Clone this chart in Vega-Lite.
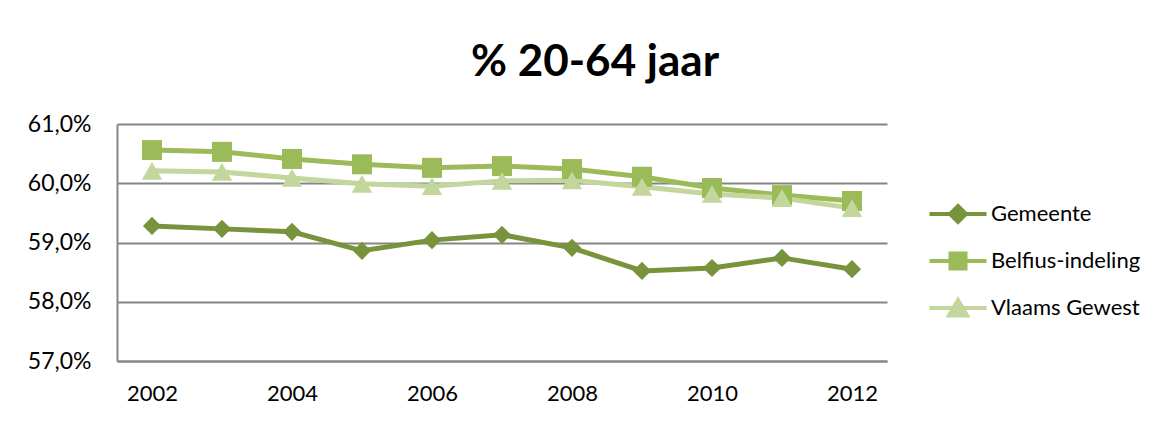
{
  "$schema": "https://vega.github.io/schema/vega-lite/v6.json",
  "width": 770,
  "height": 237,
  "autosize": "none",
  "padding": {"left": 117, "top": 124, "right": 281, "bottom": 60},
  "background": "white",
  "config": {"view": {"stroke": null}, "font": "Lato"},
  "title": {"text": "% 20-64 jaar", "fontSize": 44, "fontWeight": "bold", "font": "Lato", "color": "#000000", "anchor": "middle", "frame": "group", "dx": 93, "offset": 28},
  "data": {"values": [
    {"jaar": 2002, "reeks": "Gemeente", "pct": 59.28},
    {"jaar": 2003, "reeks": "Gemeente", "pct": 59.23},
    {"jaar": 2004, "reeks": "Gemeente", "pct": 59.18},
    {"jaar": 2005, "reeks": "Gemeente", "pct": 58.86},
    {"jaar": 2006, "reeks": "Gemeente", "pct": 59.04},
    {"jaar": 2007, "reeks": "Gemeente", "pct": 59.13},
    {"jaar": 2008, "reeks": "Gemeente", "pct": 58.91},
    {"jaar": 2009, "reeks": "Gemeente", "pct": 58.52},
    {"jaar": 2010, "reeks": "Gemeente", "pct": 58.57},
    {"jaar": 2011, "reeks": "Gemeente", "pct": 58.74},
    {"jaar": 2012, "reeks": "Gemeente", "pct": 58.55},
    {"jaar": 2002, "reeks": "Belfius-indeling", "pct": 60.56},
    {"jaar": 2003, "reeks": "Belfius-indeling", "pct": 60.53},
    {"jaar": 2004, "reeks": "Belfius-indeling", "pct": 60.41},
    {"jaar": 2005, "reeks": "Belfius-indeling", "pct": 60.32},
    {"jaar": 2006, "reeks": "Belfius-indeling", "pct": 60.26},
    {"jaar": 2007, "reeks": "Belfius-indeling", "pct": 60.29},
    {"jaar": 2008, "reeks": "Belfius-indeling", "pct": 60.24},
    {"jaar": 2009, "reeks": "Belfius-indeling", "pct": 60.11},
    {"jaar": 2010, "reeks": "Belfius-indeling", "pct": 59.92},
    {"jaar": 2011, "reeks": "Belfius-indeling", "pct": 59.80},
    {"jaar": 2012, "reeks": "Belfius-indeling", "pct": 59.70},
    {"jaar": 2002, "reeks": "Vlaams Gewest", "pct": 60.21},
    {"jaar": 2003, "reeks": "Vlaams Gewest", "pct": 60.19},
    {"jaar": 2004, "reeks": "Vlaams Gewest", "pct": 60.09},
    {"jaar": 2005, "reeks": "Vlaams Gewest", "pct": 59.99},
    {"jaar": 2006, "reeks": "Vlaams Gewest", "pct": 59.95},
    {"jaar": 2007, "reeks": "Vlaams Gewest", "pct": 60.04},
    {"jaar": 2008, "reeks": "Vlaams Gewest", "pct": 60.05},
    {"jaar": 2009, "reeks": "Vlaams Gewest", "pct": 59.94},
    {"jaar": 2010, "reeks": "Vlaams Gewest", "pct": 59.82},
    {"jaar": 2011, "reeks": "Vlaams Gewest", "pct": 59.75},
    {"jaar": 2012, "reeks": "Vlaams Gewest", "pct": 59.58}
  ]},
  "encoding": {
    "x": {
      "field": "jaar", "type": "ordinal",
      "scale": {"type": "point", "padding": 0.5},
      "axis": {"title": null, "labelAngle": 0, "ticks": false, "domain": true, "domainColor": "#868686", "domainWidth": 2, "labelFontSize": 22, "labelColor": "#000000", "labelPadding": 22, "labelExpr": "datum.value % 2 == 0 ? datum.label : ''"}
    },
    "y": {
      "field": "pct", "type": "quantitative",
      "scale": {"domain": [57, 61], "nice": false, "zero": false},
      "axis": {"title": null, "values": [57, 58, 59, 60, 61], "grid": true, "gridColor": "#868686", "gridWidth": 2, "ticks": false, "domain": true, "domainColor": "#868686", "domainWidth": 2, "labelFontSize": 23, "labelColor": "#000000", "labelPadding": 26, "labelExpr": "replace(format(datum.value, '.1f'), '.', ',') + '%'"}
    }
  },
  "layer": [
    {
      "mark": {"type": "line", "strokeWidth": 5},
      "encoding": {
        "color": {
          "field": "reeks", "type": "nominal",
          "scale": {"domain": ["Gemeente", "Belfius-indeling", "Vlaams Gewest"], "range": ["#77933C", "#9BBB59", "#C3D69B"]},
          "legend": {
            "orient": "none", "legendX": 829, "legendY": 78, "title": null, "padding": 0,
            "labelFontSize": 22, "labelColor": "#000000", "labelOffset": 21, "rowPadding": 15,
            "symbolSize": 400, "symbolStrokeWidth": 4,
            "encode": {"symbols": {"update": {
              "shape": {"signal": "datum.value == 'Gemeente' ? 'M-2.85,0H2.85M0,-0.8L0.8,0L0,0.8L-0.8,0Z' : datum.value == 'Belfius-indeling' ? 'M-2.85,0H2.85M-0.75,-0.75H0.75V0.75H-0.75Z' : 'M-2.85,0H2.85M0,-0.8L0.9,0.75H-0.9Z'"},
              "fill": {"scale": "color", "field": "value"},
              "stroke": {"scale": "color", "field": "value"},
              "strokeWidth": {"value": 4},
              "opacity": {"value": 1},
              "fillOpacity": {"value": 1}
            }}}
          }
        }
      }
    },
    {
      "transform": [{"filter": "datum.reeks == 'Gemeente'"}],
      "mark": {"type": "point", "filled": true, "opacity": 1, "shape": "diamond", "size": 330, "color": "#77933C"}
    },
    {
      "transform": [{"filter": "datum.reeks == 'Belfius-indeling'"}],
      "mark": {"type": "point", "filled": true, "opacity": 1, "shape": "square", "size": 400, "color": "#9BBB59"}
    },
    {
      "transform": [{"filter": "datum.reeks == 'Vlaams Gewest'"}],
      "mark": {"type": "point", "filled": true, "opacity": 1, "shape": "triangle-up", "size": 420, "color": "#C3D69B"}
    }
  ]
}
